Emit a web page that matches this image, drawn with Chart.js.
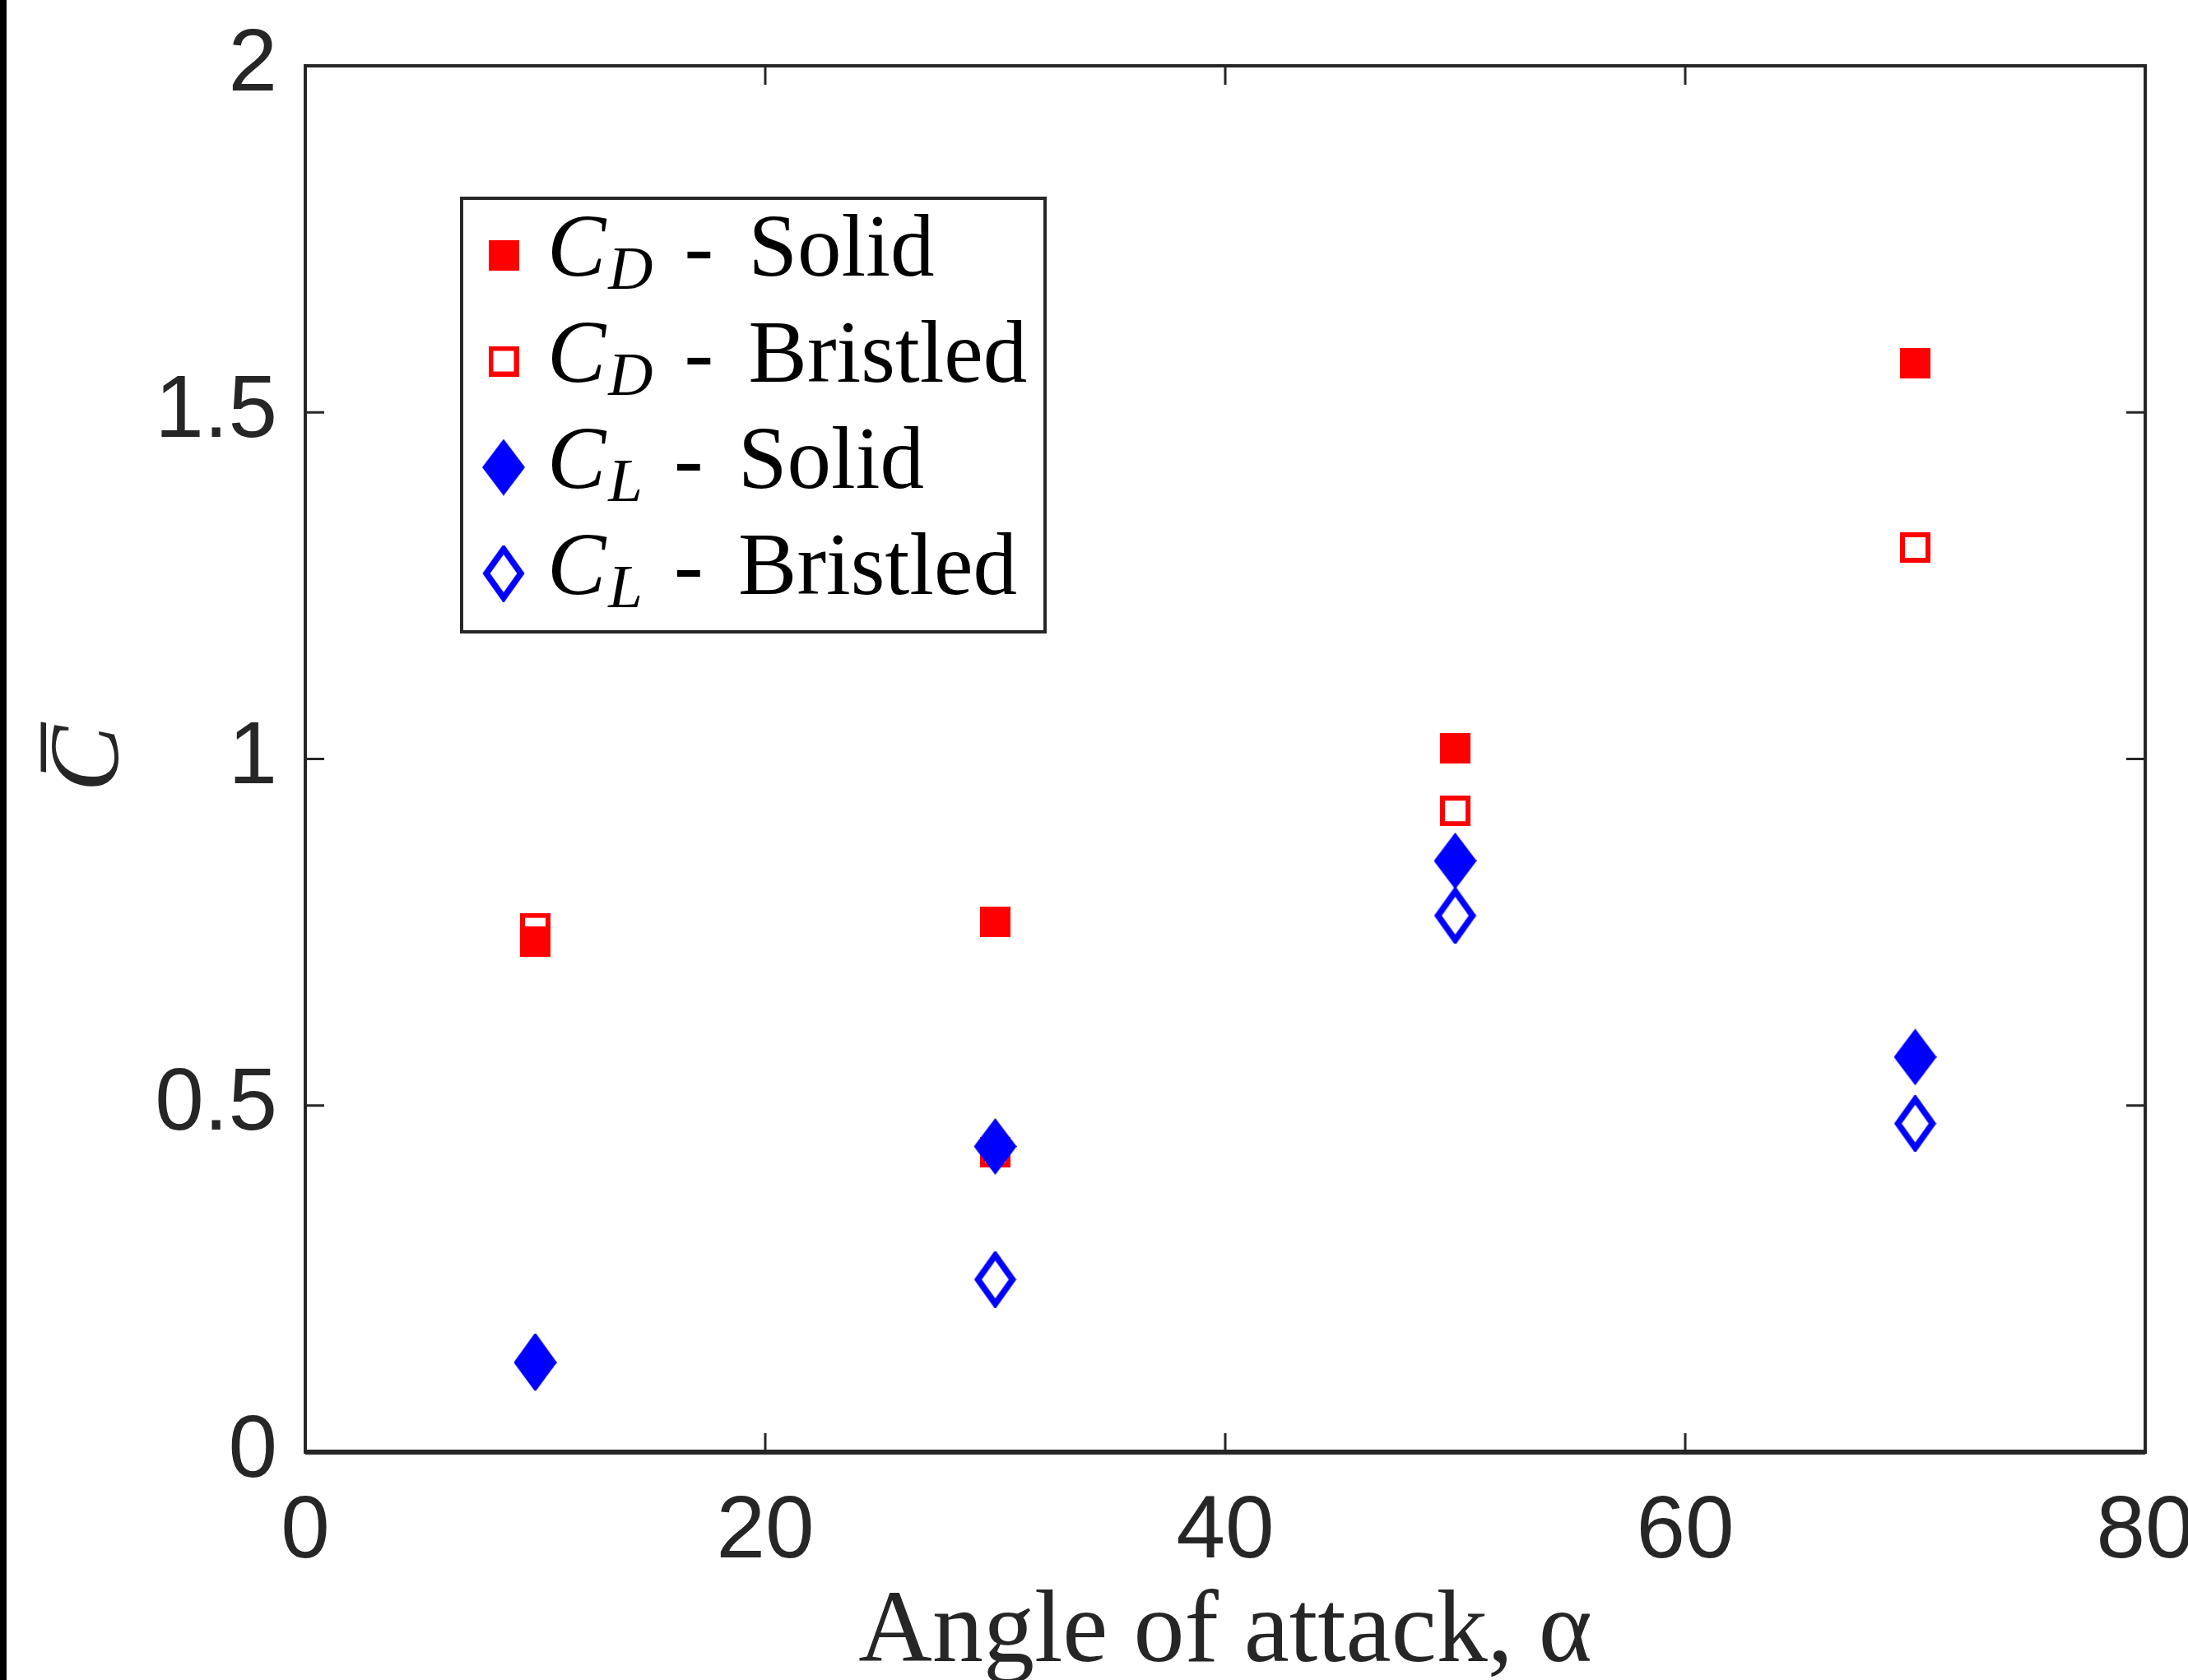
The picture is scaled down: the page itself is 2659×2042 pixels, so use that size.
<!DOCTYPE html>
<html>
<head>
<meta charset="utf-8">
<script src="https://cdn.jsdelivr.net/npm/chart.js@4.4.1/dist/chart.umd.min.js"></script>
<style>
  html, body { margin: 0; padding: 0; background: #fff; }
  #wrap { position: relative; width: 2659px; height: 2042px; }
  #edge { position: absolute; left: 0; top: 0; width: 8px; height: 2042px; background: #000; }
</style>
</head>
<body>
<div id="wrap">
  <canvas id="chart" width="2659" height="2042"></canvas>
  <div id="edge"></div>
</div>
<script>
// angle of attack (deg)
const angles = [10, 30, 50, 70];

// mean coefficients
const cdSolid    = [0.736, 0.765, 1.015, 1.571];
const cdBristled = [0.756, 0.433, 0.925, 1.305];
const clSolid    = [0.129, 0.441, 0.853, 0.570];
const clBristled = [0.130, 0.249, 0.774, 0.474];

const xTicks = [0, 20, 40, 60, 80];
const yTicks = [0, 0.5, 1, 1.5, 2];

const legendSubs  = ['D', 'D', 'L', 'L'];
const legendNames = ['Solid', 'Bristled', 'Solid', 'Bristled'];

const AXIS_COLOR = '#262626';
const RED = '#ff0000';
const BLUE = '#0000ff';

// marker images (MATLAB-like square / tall diamond)
function squareMarker(color, filled) {
  const c = document.createElement('canvas');
  c.width = 37; c.height = 37;
  const g = c.getContext('2d');
  if (filled) {
    g.fillStyle = color;
    g.fillRect(0, 0, 37, 37);
  } else {
    g.strokeStyle = color;
    g.lineWidth = 6;
    g.strokeRect(3, 3, 31, 31);
  }
  return c;
}

function diamondMarker(color, filled) {
  const w = 52, h = 69;
  const c = document.createElement('canvas');
  c.width = w; c.height = h;
  const g = c.getContext('2d');
  const inset = filled ? 0 : 5;
  g.beginPath();
  g.moveTo(w / 2, inset);
  g.lineTo(w - inset, h / 2);
  g.lineTo(w / 2, h - inset);
  g.lineTo(inset, h / 2);
  g.closePath();
  if (filled) {
    g.fillStyle = color;
    g.fill();
  } else {
    g.strokeStyle = color;
    g.lineWidth = 7.5;
    g.lineJoin = 'miter';
    g.stroke();
  }
  return c;
}

const toPoints = (ys) => angles.map((x, i) => ({ x: x, y: ys[i] }));

const datasets = [
  { label: 'C_D - Solid',    data: toPoints(cdSolid),    pointStyle: squareMarker(RED, true) },
  { label: 'C_D - Bristled', data: toPoints(cdBristled), pointStyle: squareMarker(RED, false) },
  { label: 'C_L - Solid',    data: toPoints(clSolid),    pointStyle: diamondMarker(BLUE, true) },
  { label: 'C_L - Bristled', data: toPoints(clBristled), pointStyle: diamondMarker(BLUE, false) }
].map((d, i) => Object.assign(d, {
  order: 4 - i,           // later series drawn on top, as in the original
  pointRadius: 30,
  pointHoverRadius: 30,
  showLine: false,
  backgroundColor: i < 2 ? RED : BLUE,
  borderColor: i < 2 ? RED : BLUE
}));

// box + inward ticks on all four sides
const framePlugin = {
  id: 'frame',
  afterDraw(chart) {
    const { ctx, chartArea: a, scales } = chart;
    const tick = 23;
    ctx.save();
    ctx.strokeStyle = AXIS_COLOR;
    ctx.lineWidth = 3;
    ctx.beginPath();
    scales.x.ticks.forEach(t => {
      const px = scales.x.getPixelForValue(t.value);
      ctx.moveTo(px, a.bottom); ctx.lineTo(px, a.bottom - tick);
      ctx.moveTo(px, a.top);    ctx.lineTo(px, a.top + tick);
    });
    scales.y.ticks.forEach(t => {
      const py = scales.y.getPixelForValue(t.value);
      ctx.moveTo(a.left, py);  ctx.lineTo(a.left + tick, py);
      ctx.moveTo(a.right, py); ctx.lineTo(a.right - tick, py);
    });
    ctx.stroke();
    ctx.lineWidth = 4;
    ctx.strokeRect(a.left, a.top, a.right - a.left, a.bottom - a.top);
    ctx.lineWidth = 6;
    ctx.beginPath();
    ctx.moveTo(a.left, a.bottom); ctx.lineTo(a.right, a.bottom);
    ctx.stroke();
    ctx.restore();
  }
};

// legend with subscripts (C_D, C_L), drawn from the datasets
const legendPlugin = {
  id: 'subLegend',
  afterDraw(chart) {
    const { ctx, chartArea: a } = chart;
    const bx = a.left + 190, by = a.top + 161, bw = 709, bh = 527;
    const rowGap = 129;
    ctx.save();
    ctx.fillStyle = '#fff';
    ctx.fillRect(bx, by, bw, bh);
    ctx.strokeStyle = AXIS_COLOR;
    ctx.lineWidth = 4;
    ctx.strokeRect(bx, by, bw, bh);

    chart.data.datasets.forEach((ds, i) => {
      const cy = by + 69 + rowGap * i;
      const img = ds.pointStyle;
      ctx.drawImage(img, bx + 51 - img.width / 2, cy - img.height / 2);

      ctx.fillStyle = '#000';
      ctx.textBaseline = 'alphabetic';
      ctx.textAlign = 'left';
      let x = bx + 104;
      ctx.font = 'italic 107px "Liberation Serif", "Times New Roman", serif';
      ctx.fillText('C', x, cy + 25);
      x += ctx.measureText('C').width + 3;
      ctx.font = 'italic 75px "Liberation Serif", "Times New Roman", serif';
      ctx.fillText(legendSubs[i], x, cy + 41);
      x += ctx.measureText(legendSubs[i]).width;
      ctx.font = '107px "Liberation Serif", "Times New Roman", serif';
      ctx.fillText('-', x + 38, cy + 25);
      ctx.fillText(legendNames[i], x + 116, cy + 25);
    });
    ctx.restore();
  }
};

Chart.defaults.color = AXIS_COLOR;

new Chart(document.getElementById('chart'), {
  type: 'scatter',
  data: { datasets: datasets },
  options: {
    responsive: false,
    animation: false,
    devicePixelRatio: 1,
    layout: { padding: { top: 80, right: 52, bottom: 0, left: 0 } },
    plugins: {
      legend: { display: false },
      tooltip: { enabled: false }
    },
    scales: {
      x: {
        type: 'linear',
        min: 0,
        max: 80,
        afterBuildTicks: (s) => { s.ticks = xTicks.map(v => ({ value: v })); },
        afterFit: (s) => { s.height = 277; s.paddingLeft = 0; s.paddingRight = 0; },
        grid: { display: false, drawTicks: false },
        border: { display: false },
        ticks: {
          padding: 34,
          maxRotation: 0,
          font: { family: '"Liberation Sans", Arial, sans-serif', size: 107 },
          color: AXIS_COLOR
        },
        title: {
          display: true,
          text: 'Angle of attack, α',
          color: '#262626',
          padding: 0,
          font: { family: '"Liberation Serif", "Times New Roman", serif', size: 124, lineHeight: 0.9 }
        }
      },
      y: {
        type: 'linear',
        min: 0,
        max: 2,
        afterBuildTicks: (s) => { s.ticks = yTicks.map(v => ({ value: v })); },
        afterFit: (s) => { s.width = 371; s.paddingTop = 0; s.paddingBottom = 0; },
        grid: { display: false, drawTicks: false },
        border: { display: false },
        ticks: {
          padding: 34,
          callback: (v) => String(v),
          font: { family: '"Liberation Sans", Arial, sans-serif', size: 107 },
          color: AXIS_COLOR
        },
        title: {
          display: true,
          text: 'C\u0305',
          color: '#262626',
          padding: { top: 51, bottom: 0 },
          font: { family: '"Liberation Serif", "DejaVu Serif", serif', style: 'italic', size: 120, lineHeight: 1 }
        }
      }
    }
  },
  plugins: [framePlugin, legendPlugin]
});
</script>
</body>
</html>
